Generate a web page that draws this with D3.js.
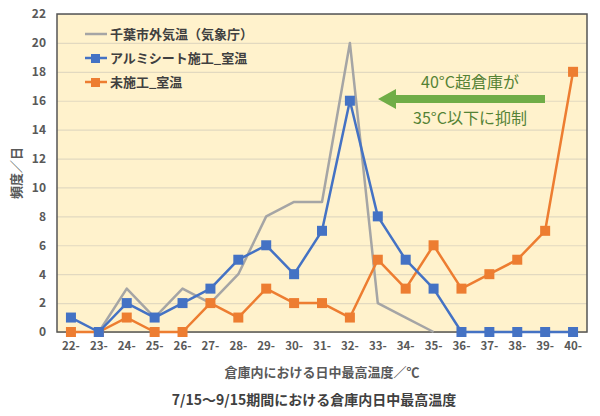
<!DOCTYPE html>
<html>
<head>
<meta charset="utf-8">
<script src="https://cdn.jsdelivr.net/npm/d3@7"></script>
<style>
  body { margin: 0; background: #fff; }
  text { font-family: "Noto Sans CJK JP", "Noto Sans", sans-serif; }
</style>
</head>
<body>
<svg width="600" height="416"></svg>
<script>
// DATA
var categories = ["22-", "23-", "24-", "25-", "26-", "27-", "28-", "29-", "30-", "31-",
                  "32-", "33-", "34-", "35-", "36-", "37-", "38-", "39-", "40-"];
// gray line starts at 23- and stops at 35-
var outsideTemp = [null, 0, 3, 1, 3, 2, 4, 8, 9, 9, 20, 2, 1, 0, null, null, null, null, null];
var aluminumRoom = [1, 0, 2, 1, 2, 3, 5, 6, 4, 7, 16, 8, 5, 3, 0, 0, 0, 0, 0];
var untreatedRoom = [0, 0, 1, 0, 0, 2, 1, 3, 2, 2, 1, 5, 3, 6, 3, 4, 5, 7, 18];
var yTicks = [0, 2, 4, 6, 8, 10, 12, 14, 16, 18, 20, 22];
var seriesNames = ["千葉市外気温（気象庁）", "アルミシート施工_室温", "未施工_室温"];

var svg = d3.select("svg"),
    margin = {top: 14, right: 13, bottom: 84, left: 57},
    width = 600 - margin.left - margin.right,
    height = 416 - margin.top - margin.bottom;

var x = d3.scaleBand().domain(categories).range([0, width]);
var y = d3.scaleLinear().domain([0, 22]).range([height, 0]);

var g = svg.append("g").attr("transform", "translate(" + margin.left + "," + margin.top + ")");

// plot background
g.append("rect")
    .attr("width", width)
    .attr("height", height)
    .attr("fill", "#fff2cc");

// gridlines
g.append("g")
    .call(d3.axisLeft(y).tickValues(yTicks).tickSize(-width).tickFormat(""))
    .call(function(s) {
      s.select(".domain").remove();
      s.selectAll("line").attr("stroke", "#e2d9c0").attr("stroke-width", 1.2);
    });

// plot border
g.append("rect")
    .attr("width", width)
    .attr("height", height)
    .attr("fill", "none")
    .attr("stroke", "#555")
    .attr("stroke-width", 1.5);

// y axis labels
g.append("g")
    .call(d3.axisLeft(y).tickValues(yTicks).tickSize(0).tickPadding(11))
    .call(function(s) {
      s.select(".domain").remove();
      s.selectAll("text")
          .attr("font-size", "12px")
          .attr("font-weight", "bold")
          .attr("fill", "#595959");
    });

// x axis labels
g.append("g")
    .attr("transform", "translate(0," + height + ")")
    .call(d3.axisBottom(x).tickSize(0).tickPadding(10))
    .call(function(s) {
      s.select(".domain").remove();
      s.selectAll("text")
          .attr("font-size", "11.5px")
          .attr("font-weight", "bold")
          .attr("fill", "#595959");
    });

// axis titles
svg.append("text")
    .attr("transform", "translate(21," + (margin.top + height / 2) + ") rotate(-90)")
    .attr("text-anchor", "middle")
    .attr("font-size", "13px")
    .attr("font-weight", "bold")
    .attr("fill", "#595959")
    .text("頻度／日");

svg.append("text")
    .attr("x", margin.left + width / 2)
    .attr("y", 377)
    .attr("text-anchor", "middle")
    .attr("font-size", "13px")
    .attr("font-weight", "bold")
    .attr("fill", "#595959")
    .text("倉庫内における日中最高温度／℃");

svg.append("text")
    .attr("x", 314)
    .attr("y", 405)
    .attr("text-anchor", "middle")
    .attr("font-size", "14px")
    .attr("font-weight", "bold")
    .attr("fill", "#404040")
    .text("7/15～9/15期間における倉庫内日中最高温度");

// lines
var line = d3.line()
    .defined(function(d) { return d != null; })
    .x(function(d, i) { return x(categories[i]) + x.bandwidth() / 2; })
    .y(function(d) { return y(d); });

var series = [
  {values: outsideTemp, color: "#a5a5a5", marker: false},
  {values: aluminumRoom, color: "#4472c4", marker: true},
  {values: untreatedRoom, color: "#ed7d31", marker: true}
];

// draw orange under blue, gray at the back
[0, 2, 1].forEach(function(k) {
  var s = series[k];
  g.append("path")
      .datum(s.values)
      .attr("fill", "none")
      .attr("stroke", s.color)
      .attr("stroke-width", 2.5)
      .attr("stroke-linejoin", "round")
      .attr("d", line);
  if (s.marker) {
    g.selectAll(".m" + k)
        .data(s.values)
      .enter().append("rect")
        .attr("x", function(d, i) { return x(categories[i]) + x.bandwidth() / 2 - 5; })
        .attr("y", function(d) { return y(d) - 5; })
        .attr("width", 10)
        .attr("height", 10)
        .attr("fill", s.color);
  }
});

// legend
var legend = svg.append("g").attr("transform", "translate(85,34)");
series.forEach(function(s, k) {
  var row = legend.append("g").attr("transform", "translate(0," + (k * 24) + ")");
  row.append("line")
      .attr("x1", 0).attr("x2", 22)
      .attr("stroke", s.color)
      .attr("stroke-width", 2.5);
  if (s.marker) {
    row.append("rect")
        .attr("x", 6).attr("y", -4)
        .attr("width", 9).attr("height", 9)
        .attr("fill", s.color);
  }
  row.append("text")
      .attr("x", 25)
      .attr("dy", "0.35em")
      .attr("font-size", "13px")
      .attr("font-weight", "bold")
      .attr("fill", "#404040")
      .text(seriesNames[k]);
});

// annotation arrow
var arrowY = 99;
svg.append("path")
    .attr("d", "M545," + (arrowY - 4) + "H396V" + (arrowY - 10) + "L378," + arrowY +
               "L396," + (arrowY + 10) + "V" + (arrowY + 4) + "H545Z")
    .attr("fill", "#70ad47");

svg.append("text")
    .attr("x", 470)
    .attr("y", 88)
    .attr("text-anchor", "middle")
    .attr("font-size", "16px")
    .attr("fill", "#548235")
    .text("40°C超倉庫が");

svg.append("text")
    .attr("x", 470)
    .attr("y", 124)
    .attr("text-anchor", "middle")
    .attr("font-size", "16px")
    .attr("fill", "#548235")
    .text("35°C以下に抑制");
</script>
</body>
</html>
